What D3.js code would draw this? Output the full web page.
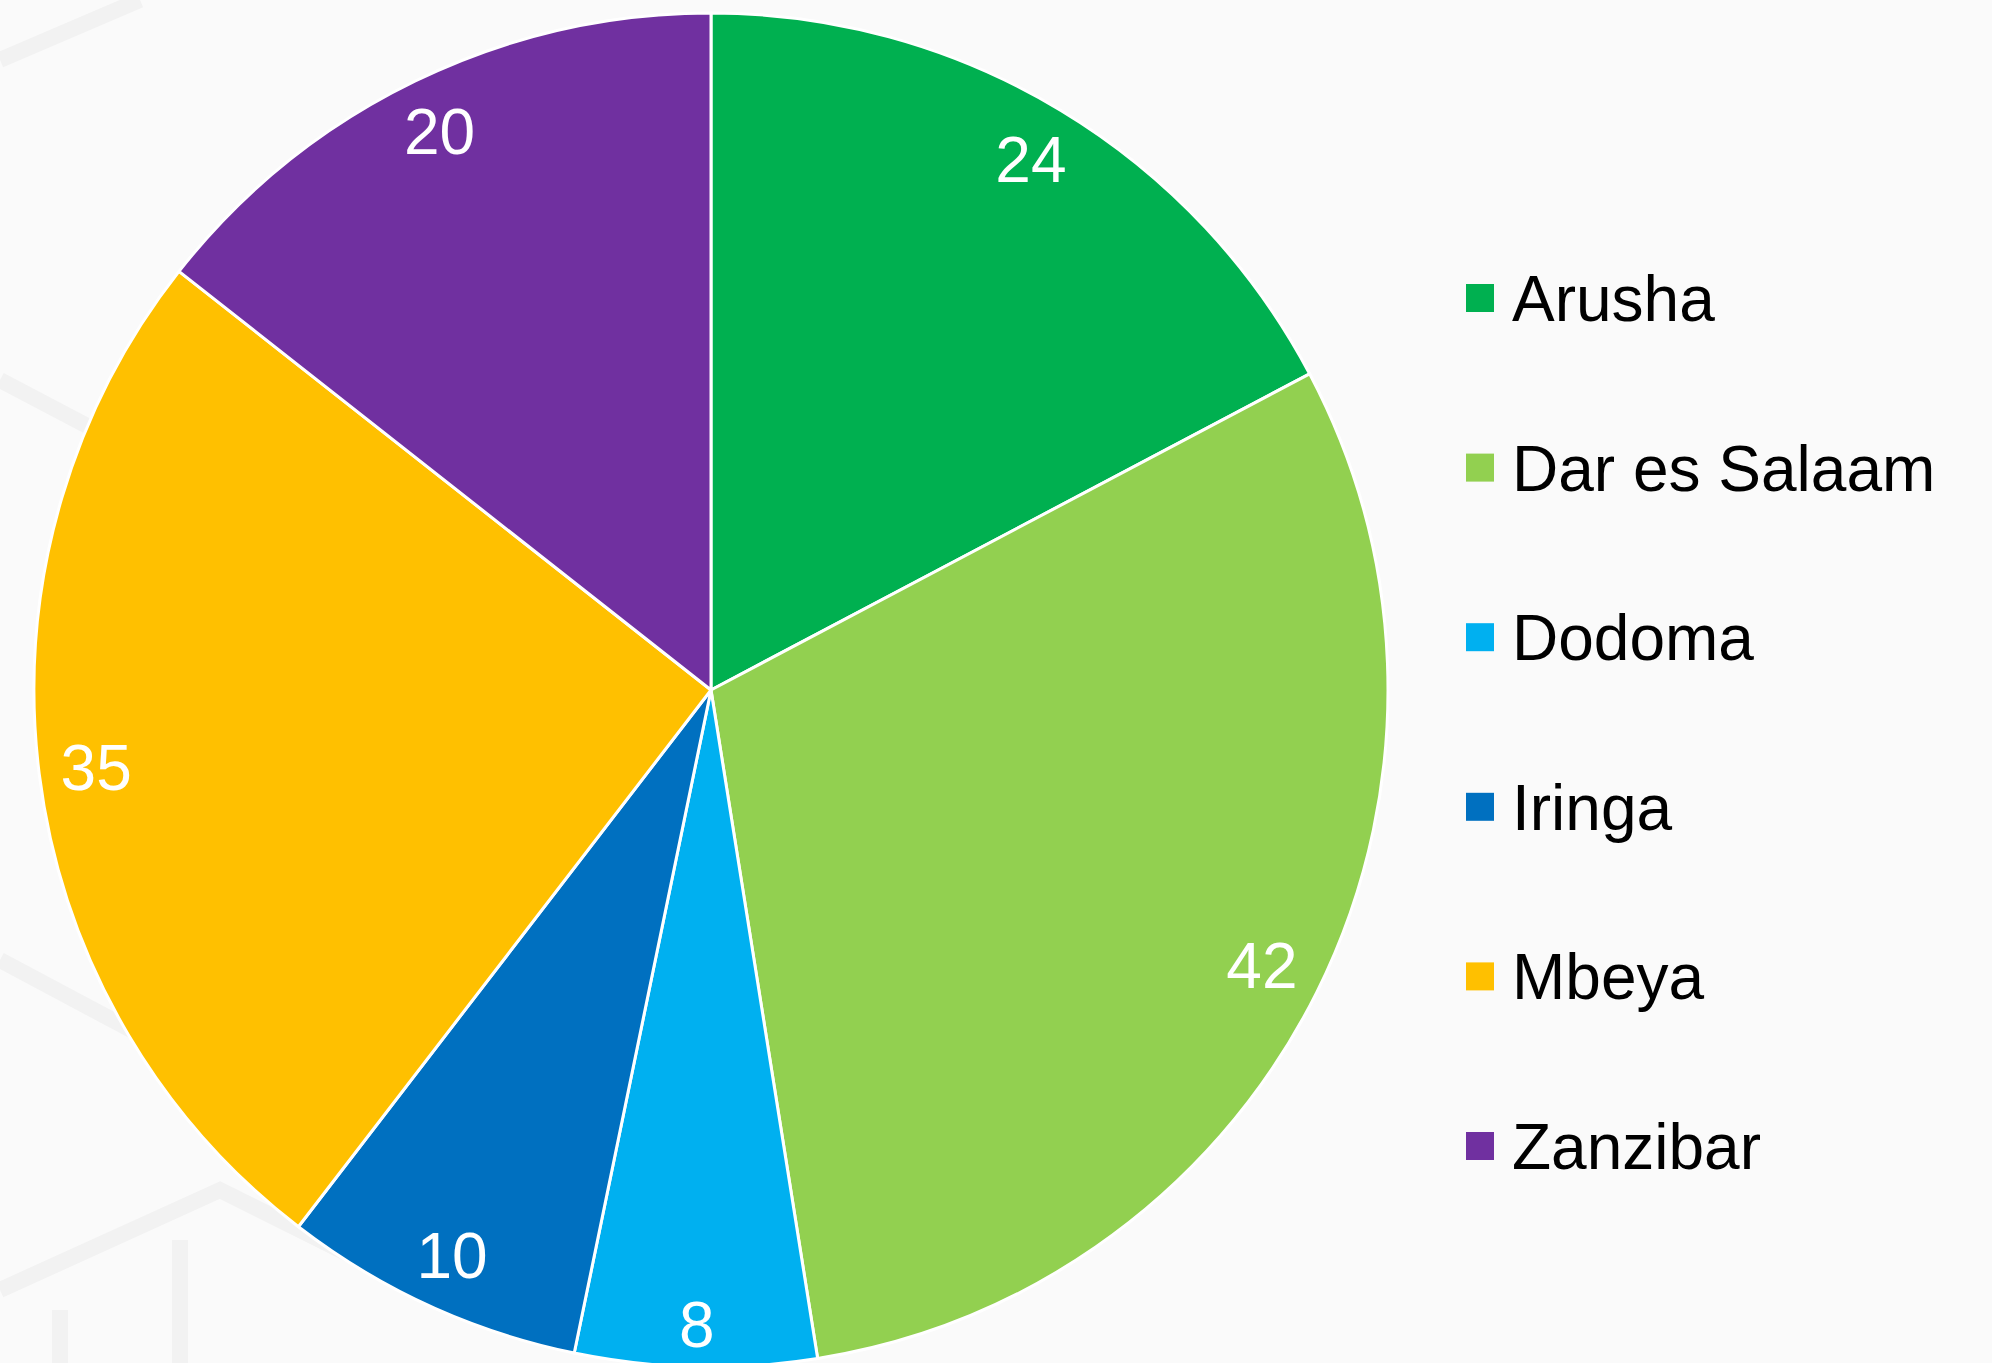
<!DOCTYPE html>
<html>
<head>
<meta charset="utf-8">
<script src="https://cdn.jsdelivr.net/npm/d3@7"></script>
<style>
  body { margin: 0; background: #fafafa; }
  svg { display: block; }
</style>
</head>
<body>
<div id="chart"></div>
<script>
// data
const regions = ["Arusha", "Dar es Salaam", "Dodoma", "Iringa", "Mbeya", "Zanzibar"];
const counts = [24, 42, 8, 10, 35, 20];
const sliceColors = ["#00B050", "#92D050", "#00B0F0", "#0070C0", "#FFC000", "#7030A0"];

const width = 1992, height = 1363;
const cx = 711, cy = 690, radius = 677;
const labelSize = 64;

const svg = d3.select("#chart").append("svg")
    .attr("width", width)
    .attr("height", height);

svg.append("rect")
    .attr("width", width)
    .attr("height", height)
    .attr("fill", "#fafafa");

// faint background watermark bands
const bg = svg.append("g").attr("fill", "none").attr("stroke", "#f2f2f2").attr("stroke-width", 16);
[
    [[0, 60], [140, 0]],
    [[0, 380], [190, 480]],
    [[0, 960], [150, 1040]],
    [[0, 1290], [220, 1190], [420, 1290]],
    [[60, 1363], [60, 1310]],
    [[180, 1363], [180, 1240]]
].forEach(pts => bg.append("path").attr("d", d3.line()(pts)));

const color = d3.scaleOrdinal().domain(regions).range(sliceColors);

const pie = d3.pie().sort(null).value(d => d.value);
const data = regions.map((r, i) => ({name: r, value: counts[i]}));

const arc = d3.arc().innerRadius(0).outerRadius(radius);

const g = svg.append("g").attr("transform", `translate(${cx},${cy})`);

const arcs = pie(data);

g.selectAll(".slice")
    .data(arcs)
    .enter()
    .append("path")
    .attr("class", "slice")
    .attr("d", arc)
    .attr("fill", d => color(d.data.name))
    .attr("stroke", "#ffffff")
    .attr("stroke-width", 3)
    .attr("stroke-linejoin", "round");

// labels sit "inside end": push the text box out until its far corner meets the limit
const labelLimit = radius - 19;
g.selectAll(".label")
    .data(arcs)
    .enter()
    .append("text")
    .attr("class", "label")
    .attr("text-anchor", "middle")
    .attr("fill", "#ffffff")
    .style("font-family", "'Liberation Sans', Arial, sans-serif")
    .style("font-size", labelSize + "px")
    .text(d => d.data.value)
    .each(function(d) {
        const hw = this.getComputedTextLength() / 2;
        const hh = labelSize * 0.716 / 2;
        const mid = (d.startAngle + d.endAngle) / 2;
        const ux = Math.sin(mid), uy = -Math.cos(mid);
        const sx = Math.sign(ux) * hw, sy = Math.sign(uy) * hh;
        // solve |t*u + s| = labelLimit
        const b = ux * sx + uy * sy;
        const c = sx * sx + sy * sy - labelLimit * labelLimit;
        const t = -b + Math.sqrt(b * b - c);
        d3.select(this)
            .attr("x", t * ux)
            .attr("y", t * uy + hh);
    });

// legend
const legendY = d3.scalePoint().domain(regions).range([298, 1146]);

const legend = svg.append("g").attr("class", "legend");

const items = legend.selectAll(".item")
    .data(regions)
    .enter()
    .append("g")
    .attr("class", "item")
    .attr("transform", d => `translate(1466,${legendY(d)})`);

items.append("rect")
    .attr("x", 0)
    .attr("y", -14)
    .attr("width", 28)
    .attr("height", 28)
    .attr("fill", d => color(d));

items.append("text")
    .attr("x", 46)
    .attr("dy", "0.36em")
    .attr("fill", "#000000")
    .style("font-family", "'Liberation Sans', Arial, sans-serif")
    .style("font-size", "64px")
    .text(d => d);
</script>
</body>
</html>
